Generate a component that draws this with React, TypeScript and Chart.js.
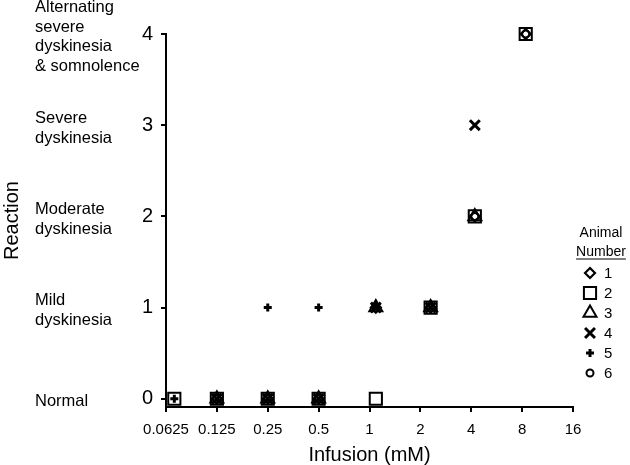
import React, { useEffect, useRef } from 'react';
import { Chart, registerables } from 'chart.js';
import { drawPoint } from 'chart.js/helpers';

Chart.register(...registerables);

const FONT = '"Liberation Sans", Arial, Helvetica, sans-serif';

// x-axis tick labels (infusion, mM) on a log2 scale
const doseTicks = [0.0625, 0.125, 0.25, 0.5, 1, 2, 4, 8, 16];
// where each dose group was plotted (slightly jittered)
const doseMarks = [0.07, 0.125, 0.25, 0.5, 1.09, 2.3, 4.2, 8.4];

// y-axis reaction levels and their descriptions
const reactionLevels = [0, 1, 2, 3, 4];
const reactionNames = [
  ['Normal'],
  ['Mild', 'dyskinesia'],
  ['Moderate', 'dyskinesia'],
  ['Severe', 'dyskinesia'],
  ['Alternating', 'severe', 'dyskinesia', '& somnolence'],
];

// reaction per animal, aligned with doseMarks (null = not tested)
const animal1 = [null, 0, 0, 0, 1, 1, 2, 4];
const animal2 = [0, 0, 0, 0, 0, 1, 2, 4];
const animal3 = [null, 0, 0, 0, 1, 1, 2, null];
const animal4 = [null, 0, 0, 0, 1, 1, 3, null];
const animal5 = [0, null, 1, 1, 1, null, null, null];
const animal6 = [null, 0, 0, 0, 1, 1, 2, 4];

const animalLabels = ['1', '2', '3', '4', '5', '6'];
const animalSeries = [animal1, animal2, animal3, animal4, animal5, animal6];

const markerStyles = [
  { pointStyle: 'rectRot', radius: 5, borderWidth: 2.2, legendRadius: 5 },
  { pointStyle: 'rect', radius: 8.6, borderWidth: 2, legendRadius: 8.6 },
  { pointStyle: 'triangle', radius: 7.5, borderWidth: 2, legendRadius: 7.5 },
  { pointStyle: 'crossRot', radius: 7, borderWidth: 3, legendRadius: 7 },
  { pointStyle: 'cross', radius: 4, borderWidth: 3, legendRadius: 4 },
  { pointStyle: 'circle', radius: 3.5, borderWidth: 2, legendRadius: 3.5 },
];

const toPoints = (series: (number | null)[]) =>
  series
    .map((v, i) => (v === null ? null : { x: Math.log2(doseMarks[i]), y: v }))
    .filter((p) => p !== null);

const legendPlugin = {
  id: 'animalLegend',
  afterDraw(chart: any) {
    const ctx = chart.ctx as CanvasRenderingContext2D;
    const cx = chart.chartArea.right + 28;
    ctx.save();
    ctx.fillStyle = '#000';
    ctx.font = `14px ${FONT}`;
    ctx.textAlign = 'center';
    ctx.textBaseline = 'alphabetic';
    ctx.fillText('Animal', cx, 237);
    ctx.fillText('Number', cx, 256);
    const w = ctx.measureText('Number').width;
    ctx.fillRect(cx - w / 2, 258.5, w, 1);
    chart.data.datasets.forEach((ds: any, i: number) => {
      const y = 273 + i * 20;
      const m = markerStyles[i];
      ctx.strokeStyle = '#000';
      ctx.fillStyle = 'rgba(0,0,0,0)';
      ctx.lineWidth = m.borderWidth;
      drawPoint(ctx, { pointStyle: m.pointStyle, radius: m.legendRadius, rotation: 0, borderWidth: m.borderWidth } as any, cx - 11, y);
      ctx.fillStyle = '#000';
      ctx.textAlign = 'left';
      ctx.textBaseline = 'middle';
      ctx.font = `15px ${FONT}`;
      ctx.fillText(ds.label, cx + 3, y + 1);
    });
    ctx.restore();
  },
};

const noVerticalPad = (s: any) => {
  s.paddingTop = 0;
  s.paddingBottom = 0;
};

export default function App() {
  const ref = useRef<HTMLCanvasElement>(null);

  useEffect(() => {
    if (!ref.current) return;
    const yMin = -0.09;
    const yMax = 4;
    const chart = new Chart(ref.current, {
      type: 'scatter',
      data: {
        datasets: animalSeries.map((s, i) => ({
          label: animalLabels[i],
          data: toPoints(s) as any,
          pointStyle: markerStyles[i].pointStyle as any,
          pointRadius: markerStyles[i].radius,
          pointBorderWidth: markerStyles[i].borderWidth,
          pointBorderColor: '#000',
          pointBackgroundColor: 'rgba(0,0,0,0)',
          showLine: false,
          clip: false as any,
        })),
      },
      options: {
        responsive: false,
        animation: false,
        events: [],
        layout: { autoPadding: false, padding: { top: 34, right: 57, left: 0, bottom: 0 } },
        plugins: { legend: { display: false }, tooltip: { enabled: false } },
        scales: {
          x: {
            type: 'linear',
            position: 'bottom',
            min: Math.log2(doseTicks[0]),
            max: Math.log2(doseTicks[doseTicks.length - 1]),
            afterBuildTicks: (s: any) => {
              s.ticks = doseTicks.map((d) => ({ value: Math.log2(d) }));
            },
            afterFit: (s: any) => {
              s.height = 58;
              s.paddingLeft = 0;
              s.paddingRight = 0;
            },
            ticks: {
              callback: (_v: any, i: number) => String(doseTicks[i]),
              font: { size: 15, family: FONT },
              color: '#000',
              padding: 9,
              maxRotation: 0,
              autoSkip: false,
            },
            grid: { display: true, drawOnChartArea: false, drawTicks: true, tickLength: 5, color: '#000', lineWidth: 2 },
            border: { display: true, color: '#000', width: 2 },
            title: { display: true, text: 'Infusion (mM)', font: { size: 20, family: FONT, lineHeight: 1 }, color: '#000', padding: 0 },
          },
          y: {
            type: 'linear',
            position: 'left',
            weight: 0,
            min: yMin,
            max: yMax,
            afterBuildTicks: (s: any) => {
              s.ticks = reactionLevels.map((v) => ({ value: v }));
            },
            afterFit: (s: any) => {
              s.width = 24;
              noVerticalPad(s);
            },
            ticks: {
              callback: (_v: any, i: number) => String(reactionLevels[i]),
              font: { size: 20, family: FONT },
              color: '#000',
              padding: 8,
            },
            grid: { display: true, drawOnChartArea: false, drawTicks: true, tickLength: 5, color: '#000', lineWidth: 2 },
            border: { display: true, color: '#000', width: 2 },
          },
          yNames: {
            type: 'linear',
            position: 'left',
            weight: 1,
            min: yMin,
            max: yMax,
            afterBuildTicks: (s: any) => {
              s.ticks = reactionLevels.map((v) => ({ value: v }));
            },
            afterFit: (s: any) => {
              s.width = 107;
              noVerticalPad(s);
            },
            ticks: {
              callback: (_v: any, i: number) => reactionNames[i] as any,
              font: { size: 16.5, family: FONT, lineHeight: 1.2 },
              color: '#000',
              crossAlign: 'far',
              labelOffset: 3,
              padding: 0,
            },
            grid: { display: false, drawTicks: false },
            border: { display: false },
          },
          yTitle: {
            type: 'linear',
            position: 'left',
            weight: 2,
            min: yMin,
            max: yMax,
            afterFit: (s: any) => {
              s.width = 35;
              noVerticalPad(s);
            },
            ticks: { display: false },
            grid: { display: false, drawTicks: false },
            border: { display: false },
            title: { display: true, text: 'Reaction', font: { size: 20, family: FONT, lineHeight: 1.2 }, color: '#000', padding: 0 },
          },
        },
      } as any,
      plugins: [legendPlugin],
    });
    return () => chart.destroy();
  }, []);

  return (
    <div style={{ position: 'fixed', left: 0, top: 0, width: 630, height: 465, background: '#fff' }}>
      <canvas ref={ref} width={630} height={465} style={{ display: 'block' }} />
    </div>
  );
}
